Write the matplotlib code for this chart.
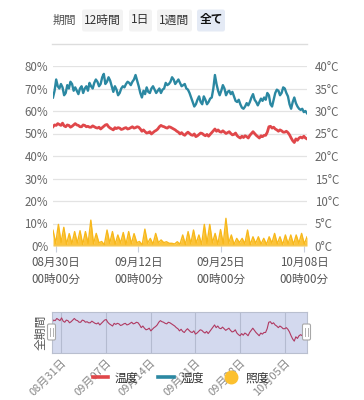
import numpy as np
import pandas as pd
import matplotlib
matplotlib.use("Agg")
import matplotlib.pyplot as plt
from matplotlib.lines import Line2D
from matplotlib.patches import FancyBboxPatch

plt.rcParams['font.family'] = ['Noto Sans CJK JP', 'DejaVu Sans']

# ---------------- data ----------------
t_start = pd.Timestamp("2023-08-29 14:00")
t_end = pd.Timestamp("2023-10-08 11:30")

humidity = [66, 69, 74, 71, 70, 72, 70.5, 67, 68, 71.5, 70, 73, 72, 69, 70.5, 69,
            67.5, 70, 71, 68, 70, 71, 69, 72.5, 71, 70, 72.5, 74, 73, 71, 72, 75,
            76.5, 72, 73, 75, 73.5, 71, 68.5, 71, 69.5, 67, 68, 70, 71, 70.5, 72, 73,
            72.5, 71.5, 73, 74, 76, 73.5, 71, 68, 66, 69, 67.5, 70.5, 68.5, 68, 70, 71,
            69.5, 68, 69, 70, 68, 69.5, 70, 72.5, 71.5, 72, 73, 75, 74, 72, 73, 74,
            72.5, 71, 71.5, 72, 70, 69.5, 68, 66, 64, 62, 63, 65, 66.5, 64, 63, 66.5,
            65, 63, 64, 65.5, 66, 70, 76, 72, 69, 67, 69, 71.5, 70, 67, 68.5, 69,
            67.5, 68.5, 66.5, 64.5, 64, 65, 63, 61.5, 61, 62, 63.5, 62.5, 64, 66, 67.5, 65,
            64, 62.5, 64, 65.5, 64.5, 66, 65, 68, 67, 63, 62, 65, 68, 69.5, 69, 67,
            68, 70.5, 70, 68, 66.5, 63, 61, 64, 66, 63.5, 62, 61, 60.5, 61, 59.5, 60, 59]

temperature = [26.5, 26.9, 26.8, 27.2, 27.0, 26.8, 27.3, 26.7, 26.5, 26.9, 26.8, 26.4,
               26.6, 26.9, 27.2, 26.9, 26.8, 26.5, 26.5, 26.9, 26.8, 26.5, 26.6, 26.4,
               26.4, 26.7, 26.5, 26.3, 26.2, 26.4, 26.0, 26.3, 26.6, 26.9, 27.0, 26.5,
               26.2, 26.0, 25.8, 26.3, 26.1, 26.3, 26.2, 25.9, 26.0, 26.2, 26.3, 26.0,
               26.1, 26.3, 26.5, 26.2, 26.3, 26.5, 26.4, 26.0, 25.5, 25.8, 25.4, 25.1,
               25.2, 25.4, 24.9, 25.2, 25.5, 25.7, 26.0, 26.5, 26.8, 26.6, 26.5, 26.3,
               26.2, 26.5, 26.4, 26.2, 26.0, 25.8, 25.5, 25.3, 24.9, 25.2, 24.8, 24.6,
               25.0, 25.3, 25.0, 24.7, 24.6, 24.9, 24.3, 24.5, 24.8, 25.1, 25.0, 24.7,
               24.5, 24.8, 24.4, 24.8, 25.2, 25.6, 26.0, 25.5, 25.8, 25.4, 25.3, 25.6,
               25.3, 25.0, 25.2, 25.4, 25.0, 24.7, 24.8, 25.1, 24.5, 24.2, 24.0, 24.4,
               24.1, 24.5, 24.3, 24.0, 24.6, 25.0, 25.4, 25.0, 24.6, 24.3, 24.0, 24.5,
               24.3, 24.6, 24.6, 25.3, 26.5, 26.6, 26.2, 26.4, 26.0, 25.8, 25.5, 25.8,
               25.6, 25.3, 25.3, 25.5, 25.2, 24.7, 24.0, 23.4, 23.0, 23.8, 23.5, 24.0,
               24.2, 24.0, 24.4, 24.0, 23.8]

illuminance = [7.0, 1.2, 9.6, 1.5, 8.3, 0.8, 5.5, 1.0, 6.4, 1.3, 6.8, 0.7, 6.4, 1.1,
               11.5, 1.0, 5.6, 1.4, 2.0, 0.6, 7.1, 1.2, 6.4, 0.8, 4.9, 1.3, 6.0, 0.7,
               6.4, 1.0, 5.5, 1.5, 2.0, 0.5, 7.5, 1.2, 3.4, 0.8, 5.6, 1.4, 2.7, 1.5,
               1.9, 1.2, 1.2, 0.9, 1.9, 0.8, 4.9, 0.6, 6.4, 1.0, 7.1, 1.3, 4.9, 0.7,
               9.6, 1.2, 9.6, 1.4, 5.6, 0.8, 7.3, 1.0, 12.3, 1.3, 4.9, 0.7, 3.4, 1.5,
               3.4, 1.0, 7.1, 0.6, 4.1, 1.2, 4.1, 0.9, 3.4, 0.7, 4.1, 1.3, 5.6, 1.0,
               4.1, 0.6, 4.9, 1.0, 4.9, 0.7, 4.9, 1.2, 5.6, 0.9, 4.1]

main_ticks = ["2023-08-30", "2023-09-12", "2023-09-25", "2023-10-08"]
slider_ticks = ["2023-08-31", "2023-09-07", "2023-09-14", "2023-09-21", "2023-09-28", "2023-10-05"]
left_labels = ["0%", "10%", "20%", "30%", "40%", "50%", "60%", "70%", "80%"]
right_labels = ["0°C", "5°C", "10°C", "15°C", "20°C", "25°C", "30°C", "35°C", "40°C"]
buttons = ["12時間", "1日", "1週間", "全て"]
legend_names = ["温度", "湿度", "照度"]

RED = "#e0474a"
TEAL = "#2b88a2"
YEL = "#fcc02e"

t_h = pd.date_range(t_start, t_end, periods=len(humidity))
t_t = pd.date_range(t_start, t_end, periods=len(temperature))
t_il = pd.date_range(t_start, t_end, periods=len(illuminance))

W, H = 364, 400
fig = plt.figure(figsize=(W / 100, H / 100), dpi=100)
fig.patch.set_facecolor("white")

def fx(px):
    return px / W

def fy(py):
    return 1 - py / H

# ---------------- main axes ----------------
ax = fig.add_axes([fx(53), fy(246), fx(307) - fx(53), fy(66) - fy(246)])
ax.set_xlim(t_start, t_end)
ax.set_ylim(0, 80)
for s in ax.spines.values():
    s.set_visible(False)
ax.set_yticks(range(0, 81, 10))
ax.set_yticklabels(left_labels)
ax.yaxis.grid(True, color="#e3e3e3", lw=0.9)
ax.set_axisbelow(True)
ax.tick_params(axis="y", length=0, pad=3.5, labelsize=8.3, labelcolor="#666666")

ax.fill_between(t_il, illuminance, 0, color=YEL, lw=0, alpha=0.95)
ax.plot(t_il, illuminance, color="#f7b81c", lw=1.0)
ax.plot(t_t, [v * 2 for v in temperature], color=RED, lw=2.0, solid_joinstyle="round")
ax.plot(t_h, humidity, color=TEAL, lw=1.7, solid_joinstyle="round")

mt = pd.to_datetime(main_ticks)
ax.set_xticks(mt)
ax.set_xticklabels([d.strftime("%m月%d日") + "\n00時00分" for d in mt], linespacing=1.3)
ax.tick_params(axis="x", length=4, color="#c8cfdc", pad=3.5, labelsize=8.3, labelcolor="#555555")
ax.axhline(0, color="#cfd3dc", lw=1.0)

ax2 = ax.twinx()
ax2.set_ylim(0, 40)
for s in ax2.spines.values():
    s.set_visible(False)
ax2.set_yticks(range(0, 41, 5))
ax2.set_yticklabels(right_labels)
ax2.tick_params(axis="y", length=0, pad=5.5, labelsize=8.3, labelcolor="#666666")

# ---------------- top period buttons ----------------
fig.text(fx(64), fy(20), "期間", ha="center", va="center", fontsize=8.5, color="#555555")
btn_x = [102.5, 140.5, 174.5, 211]
btn_w = [41, 23, 35, 28]
for name, cx, bw in zip(buttons, btn_x, btn_w):
    active = name == "全て"
    fig.patches.append(FancyBboxPatch((fx(cx - bw / 2), fy(31.5)), fx(bw), fy(9.5) - fy(31.5),
                                      boxstyle="round,pad=0,rounding_size=0.006",
                                      transform=fig.transFigure,
                                      fc="#e4eaf5" if active else "#f3f3f3", ec="none"))
    fig.text(fx(cx), fy(20), name, ha="center", va="center", fontsize=8.5,
             color="#111111" if active else "#333333",
             fontweight="bold" if active else "normal")
fig.add_artist(Line2D([fx(52), fx(307)], [fy(44), fy(44)], color="#dddddd", lw=1.0,
                      transform=fig.transFigure))

# ---------------- data zoom slider ----------------
sax = fig.add_axes([fx(52), fy(353), fx(307) - fx(52), fy(312) - fy(353)])
sax.set_xlim(t_start, t_end)
sax.set_ylim(20.8, 28.4)
sax.set_facecolor("#d3d9ee")
for s in sax.spines.values():
    s.set_color("#b9bfcf")
    s.set_linewidth(0.8)
st = pd.to_datetime(slider_ticks)
for d in st:
    sax.axvline(d, color="#b4bbd0", lw=0.8)
sax.plot(t_t, temperature, color="#b03a62", lw=0.8)
sax.set_yticks([])
sax.set_xticks(st)
sax.set_xticklabels([d.strftime("%m月%d日") for d in st], rotation=45, ha="right",
                    rotation_mode="anchor")
sax.tick_params(axis="x", length=0, pad=3, labelsize=8, labelcolor="#888888")
sax.set_ylabel("全期間", fontsize=8.5, color="#555555", labelpad=3)

for hx in (51.5, 306.5):
    fig.patches.append(FancyBboxPatch((fx(hx - 4), fy(340)), fx(8), fy(324) - fy(340),
                                      boxstyle="round,pad=0,rounding_size=0.004",
                                      transform=fig.transFigure, fc="white", ec="#a8a8a8", lw=0.8,
                                      zorder=10))
    for dx in (-1.3, 1.3):
        fig.add_artist(Line2D([fx(hx + dx), fx(hx + dx)], [fy(328), fy(336)], color="#b0b0b0",
                              lw=0.7, transform=fig.transFigure, zorder=11))

# ---------------- legend ----------------
handles = [Line2D([], [], color=RED, lw=2.6),
           Line2D([], [], color=TEAL, lw=2.6),
           Line2D([], [], color=YEL, marker="o", ls="none", markersize=9)]
fig.legend(handles, legend_names, loc="center", bbox_to_anchor=(fx(181), fy(378)), ncol=3,
           frameon=False, fontsize=8.5, handlelength=1.3, handletextpad=0.55,
           columnspacing=1.7, labelcolor="#333333")

fig.savefig("out.png", dpi=100, facecolor="white")
